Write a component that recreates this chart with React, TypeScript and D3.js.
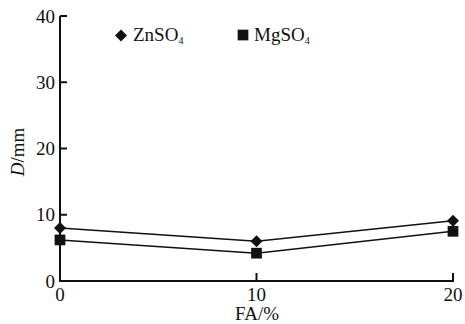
import React from "react";
import * as d3 from "d3";

const fa = [0, 10, 20];
const znso4 = [8.0, 6.0, 9.1];
const mgso4 = [6.2, 4.2, 7.5];
const yTicks = [0, 10, 20, 30, 40];
const xTicks = [0, 10, 20];

const W = 465;
const H = 324;
const FONT = "'Liberation Serif', 'Times New Roman', serif";

export default function App() {
  const x = d3.scaleLinear().domain([0, 20]).range([60, 453]);
  const y = d3.scaleLinear().domain([0, 40]).range([281, 16]);
  const line = d3
    .line<number>()
    .x((_, i) => x(fa[i]))
    .y((d) => y(d));
  const diamond = d3.symbol().type(d3.symbolSquare).size(72)();
  const square = d3.symbol().type(d3.symbolSquare).size(115)();

  return (
    <svg
      width={W}
      height={H}
      style={{ position: "absolute", left: 0, top: 0, background: "#fff" }}
      fontFamily={FONT}
    >
      {/* axes */}
      <line x1={x(0)} x2={x(0)} y1={y(40)} y2={y(0) + 1} stroke="#111" strokeWidth={2} />
      <line x1={x(0) - 1} x2={x(20) + 1} y1={y(0)} y2={y(0)} stroke="#111" strokeWidth={2} />
      {yTicks.map((t) => (
        <g key={"y" + t}>
          <line x1={x(0)} x2={x(0) + 7} y1={y(t)} y2={y(t)} stroke="#111" strokeWidth={2} />
          <text x={55} y={y(t)} dy="0.35em" textAnchor="end" fontSize={19} fill="#111">
            {t}
          </text>
        </g>
      ))}
      {xTicks.map((t) => (
        <g key={"x" + t}>
          <line x1={x(t)} x2={x(t)} y1={y(0)} y2={y(0) - 8} stroke="#111" strokeWidth={2} />
          <text x={x(t)} y={301} textAnchor="middle" fontSize={19} fill="#111">
            {t}
          </text>
        </g>
      ))}
      <text x={257} y={320} textAnchor="middle" fontSize={19} fill="#111">
        FA/%
      </text>
      <text
        transform="translate(24,152) rotate(-90)"
        textAnchor="middle"
        fontSize={19}
        fill="#111"
      >
        <tspan fontStyle="italic">D</tspan>/mm
      </text>

      {/* series */}
      <path d={line(znso4) || ""} fill="none" stroke="#111" strokeWidth={1.6} />
      <path d={line(mgso4) || ""} fill="none" stroke="#111" strokeWidth={1.6} />
      {znso4.map((v, i) => (
        <path key={"z" + i} d={diamond || ""} transform={`translate(${x(fa[i])},${y(v)}) rotate(45)`} fill="#111" />
      ))}
      {mgso4.map((v, i) => (
        <path key={"m" + i} d={square || ""} transform={`translate(${x(fa[i])},${y(v)})`} fill="#111" />
      ))}

      {/* legend */}
      <path d={diamond || ""} transform="translate(121,35.5) rotate(45)" fill="#111" />
      <text x={133} y={41} fontSize={19} fill="#111">
        ZnSO<tspan fontSize={10} dy={3}>4</tspan>
      </text>
      <path d={square || ""} transform="translate(243,35)" fill="#111" />
      <text x={254} y={41} fontSize={19} fill="#111">
        MgSO<tspan fontSize={10} dy={3}>4</tspan>
      </text>
    </svg>
  );
}
